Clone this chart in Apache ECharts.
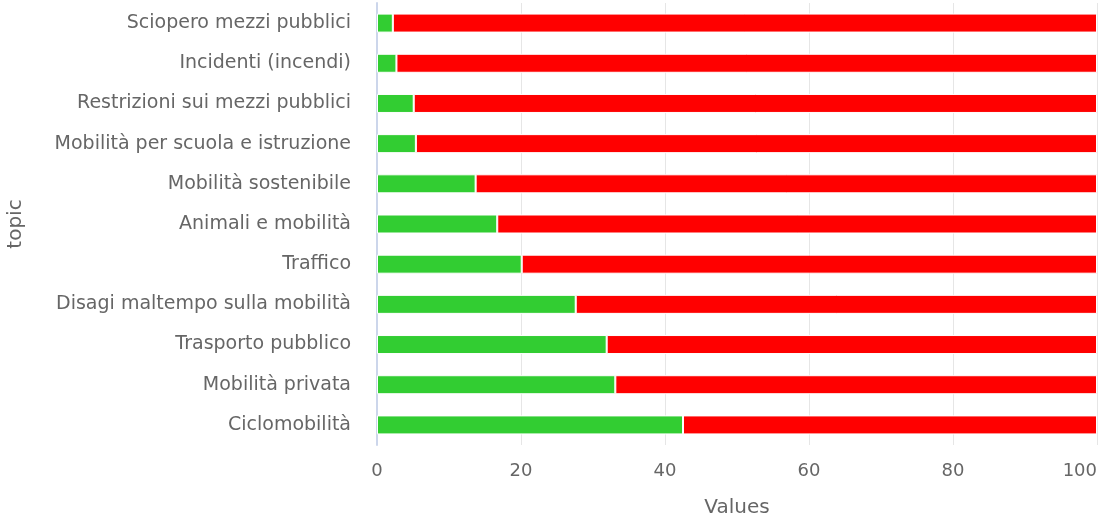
<!DOCTYPE html>
<html><head><meta charset="utf-8">
<script src="https://cdn.jsdelivr.net/npm/echarts@6/dist/echarts.min.js"></script>
<style>html,body{margin:0;padding:0;background:#fff}#c{width:1099px;height:517px}</style>
</head><body><div id="c"></div>
<script>
const categories = ["Ciclomobilità","Mobilità privata","Trasporto pubblico","Disagi maltempo sulla mobilità","Traffico","Animali e mobilità","Mobilità sostenibile","Mobilità per scuola e istruzione","Restrizioni sui mezzi pubblici","Incidenti (incendi)","Sciopero mezzi pubblici"];
const positive = [42.5, 33.1, 31.9, 27.6, 20.1, 16.7, 13.7, 5.4, 5.1, 2.7, 2.2];
const negative = [57.5, 66.9, 68.1, 72.4, 79.9, 83.3, 86.3, 94.6, 94.9, 97.3, 97.8];
const xTicks = [0, 20, 40, 60, 80, 100];

const chart = echarts.init(document.getElementById('c'));
const font = "'DejaVu Sans', sans-serif";
chart.setOption({
  animation: false,
  grid: {left: 377, right: 2, top: 3, bottom: 72, containLabel: false, outerBoundsMode: 'none'},
  xAxis: {
    type: 'value', min: xTicks[0], max: xTicks[xTicks.length-1], interval: 20,
    name: 'Values', nameLocation: 'middle', nameGap: 53,
    nameTextStyle: {color: '#666', fontSize: 20, fontFamily: font},
    axisLine: {show: false}, axisTick: {show: false},
    axisLabel: {color: '#666', fontSize: 18, fontFamily: font, margin: 17, alignMaxLabel: 'right'},
    splitLine: {show: true, lineStyle: {color: '#e6e6e6', width: 1}}
  },
  yAxis: {
    type: 'category', data: categories,
    name: 'topic', nameLocation: 'middle', nameGap: 351, nameRotate: 90,
    nameTextStyle: {color: '#666', fontSize: 20, fontFamily: font},
    axisLine: {show: true, lineStyle: {color: '#ccd6eb', width: 2}},
    axisTick: {show: false},
    axisLabel: {color: '#666', fontSize: 19, fontFamily: font, margin: 26}
  },
  series: [
    {type: 'bar', stack: 's', data: positive, barWidth: 19,
     itemStyle: {color: '#32cd32', borderColor: '#fff', borderWidth: 1}},
    {type: 'bar', stack: 's', data: negative, barWidth: 19,
     itemStyle: {color: '#ff0000', borderColor: '#fff', borderWidth: 1}}
  ]
});
</script></body></html>
